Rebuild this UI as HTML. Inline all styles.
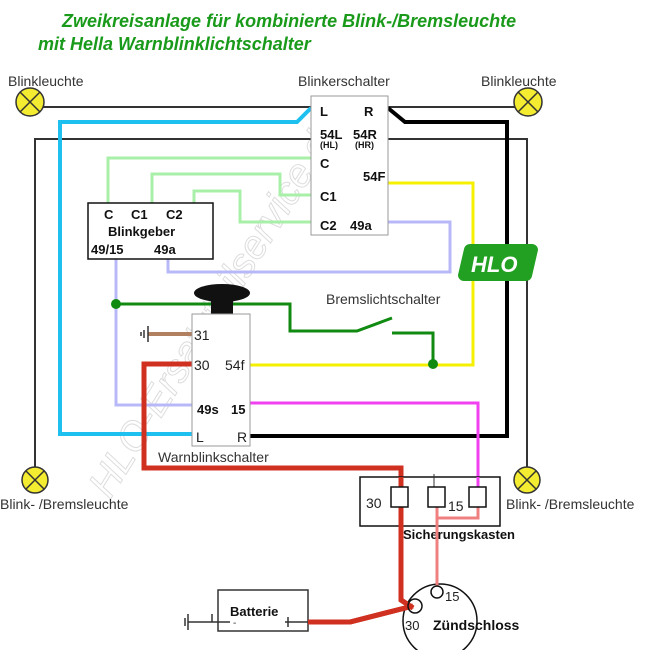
<!DOCTYPE html>
<html><head><meta charset="utf-8"><style>
html,body{margin:0;padding:0;background:#fff;}
svg{display:block;}
text{font-family:"Liberation Sans",sans-serif;}
</style></head><body>
<svg width="668" height="650" viewBox="0 0 668 650" xmlns="http://www.w3.org/2000/svg">
<rect width="668" height="650" fill="#fff"/>
<!-- watermark -->
<text x="0" y="0" transform="translate(110,500) rotate(-58)" font-size="40" fill="none" stroke="#ddd" stroke-width="1" font-style="italic">HLO-Ersatzteilservice.de</text>

<!-- title -->
<text x="62" y="27" font-size="18" font-weight="bold" font-style="italic" fill="#1a9a1a">Zweikreisanlage für kombinierte Blink-/Bremsleuchte</text>
<text x="38" y="50" font-size="18" font-weight="bold" font-style="italic" fill="#1a9a1a">mit Hella Warnblinklichtschalter</text>

<!-- thin black lines -->
<g stroke="#333" stroke-width="2" fill="none">
<line x1="30" y1="107" x2="311" y2="107"/>
<line x1="388" y1="107" x2="530" y2="107"/>
<polyline points="311,139 35,139 35,470"/>
<polyline points="388,139 527,139 527,470"/>
</g>

<!-- light green -->
<g stroke="#a8f0a8" stroke-width="3" fill="none">
<polyline points="311,158 108,158 108,204"/>
<polyline points="152,204 152,174 280,174 280,195 311,195"/>
<polyline points="194,204 194,191 240,191 240,222 311,222"/>
</g>

<!-- lavender -->
<g stroke="#b8b8f8" stroke-width="3" fill="none">
<polyline points="116,259 116,405 193,405"/>
<polyline points="168,259 168,272 450,272 450,222 388,222"/>
</g>

<!-- cyan -->
<polyline points="311,108 297,122 60,122 60,434 193,434" stroke="#1ec0f0" stroke-width="4" fill="none"/>

<!-- thick black -->
<polyline points="388,108 405,122 507,122 507,436 250,436" stroke="#000" stroke-width="4" fill="none"/>

<!-- yellow -->
<polyline points="388,183 473,183 473,365 250,365" stroke="#f5f000" stroke-width="3" fill="none"/>

<!-- magenta -->
<polyline points="250,403 478,403 478,485" stroke="#f040f0" stroke-width="3" fill="none"/>

<!-- dark green brake -->
<g stroke="#108a10" stroke-width="3" fill="none">
<polyline points="116,304 290,304 290,331 357,331 392,318"/>
<polyline points="392,333 433,333 433,363"/>
</g>
<circle cx="116" cy="304" r="5" fill="#108a10"/>
<circle cx="433" cy="364" r="5" fill="#108a10"/>

<!-- brown 31 -->
<line x1="148" y1="334" x2="192" y2="334" stroke="#b08060" stroke-width="4"/>
<g stroke="#333" stroke-width="1.5">
<line x1="148" y1="326" x2="148" y2="342"/><line x1="144" y1="330" x2="144" y2="338"/><line x1="141" y1="332" x2="141" y2="336"/>
</g>

<!-- red -->
<polyline points="192,364 144,364 144,468 401,468 401,600 413,608" stroke="#d03020" stroke-width="5" fill="none"/>
<polyline points="308,622 350,622 413,606" stroke="#d03020" stroke-width="5" fill="none"/>

<!-- pink -->
<g stroke="#f08080" stroke-width="3" fill="none">
<polyline points="437,507 437,587"/>
<polyline points="437,518 478,518 478,507"/>
</g>

<!-- lamps -->
<g stroke="#333" stroke-width="1.5">
<circle cx="30" cy="102" r="14" fill="#f4ec30"/>
<line x1="20" y1="92" x2="40" y2="112"/><line x1="40" y1="92" x2="20" y2="112"/>
<circle cx="528" cy="102" r="14" fill="#f4ec30"/>
<line x1="518" y1="92" x2="538" y2="112"/><line x1="538" y1="92" x2="518" y2="112"/>
<circle cx="35" cy="480" r="13" fill="#f4ec30"/>
<line x1="26" y1="471" x2="44" y2="489"/><line x1="44" y1="471" x2="26" y2="489"/>
<circle cx="527" cy="480" r="13" fill="#f4ec30"/>
<line x1="518" y1="471" x2="536" y2="489"/><line x1="536" y1="471" x2="518" y2="489"/>
</g>
<g font-size="14" fill="#333">
<text x="8" y="86">Blinkleuchte</text>
<text x="481" y="86">Blinkleuchte</text>
<text x="298" y="86">Blinkerschalter</text>
<text x="0" y="509">Blink- /Bremsleuchte</text>
<text x="506" y="509">Blink- /Bremsleuchte</text>
<text x="326" y="304">Bremslichtschalter</text>
<text x="158" y="462">Warnblinkschalter</text>
</g>

<!-- Blinkerschalter -->
<rect x="311" y="96" width="77" height="139" fill="#fff" stroke="#999" stroke-width="1"/>
<g font-size="13" font-weight="bold" fill="#111">
<text x="320" y="116">L</text><text x="364" y="116">R</text>
<text x="320" y="139">54L</text><text x="353" y="139">54R</text>
<text x="363" y="181">54F</text>
<text x="320" y="168">C</text>
<text x="320" y="201">C1</text>
<text x="320" y="230">C2</text><text x="350" y="230">49a</text>
</g>
<g font-size="9" font-weight="bold" fill="#111">
<text x="320" y="148">(HL)</text><text x="355" y="148">(HR)</text>
</g>

<!-- Blinkgeber -->
<rect x="88" y="203" width="125" height="56" fill="#fff" stroke="#111" stroke-width="1.5"/>
<g font-size="13" font-weight="bold" fill="#111">
<text x="104" y="219">C</text><text x="131" y="219">C1</text><text x="166" y="219">C2</text>
<text x="108" y="236">Blinkgeber</text>
<text x="91" y="254">49/15</text><text x="154" y="254">49a</text>
</g>

<!-- HLO logo -->
<path d="M470,244 h62 a6,6 0 0 1 6,6 l-6,26 a6,6 0 0 1 -6,5 h-62 a6,6 0 0 1 -6,-6 l6,-26 a6,6 0 0 1 6,-5z" fill="#22a022"/>
<text x="471" y="272" font-size="22" font-weight="bold" font-style="italic" fill="#fff">HLO</text>

<!-- mushroom -->
<ellipse cx="222" cy="293" rx="28" ry="9" fill="#111"/>
<rect x="211" y="295" width="22" height="20" fill="#111"/>

<!-- Warnblinkschalter -->
<rect x="192" y="314" width="58" height="132" fill="#fff" stroke="#999" stroke-width="1"/>
<g font-size="14" fill="#222">
<text x="194" y="340">31</text>
<text x="194" y="370">30</text><text x="225" y="370">54f</text>
<text x="196" y="442">L</text><text x="237" y="442">R</text>
</g>
<g font-size="13" font-weight="bold" fill="#111">
<text x="197" y="414">49s</text><text x="231" y="414">15</text>
</g>

<!-- Sicherungskasten -->
<rect x="360" y="477" width="140" height="49" fill="#fff" stroke="#111" stroke-width="1.5"/>
<polyline points="437,507 437,518 478,518 478,507" stroke="#f08080" stroke-width="3" fill="none"/>
<line x1="401" y1="477" x2="401" y2="487" stroke="#d03020" stroke-width="5"/>
<line x1="401" y1="507" x2="401" y2="526" stroke="#d03020" stroke-width="5"/>
<line x1="437" y1="507" x2="437" y2="526" stroke="#f08080" stroke-width="3"/>
<line x1="478" y1="477" x2="478" y2="487" stroke="#f040f0" stroke-width="3"/>
<line x1="434" y1="474" x2="434" y2="487" stroke="#333" stroke-width="1"/>
<g fill="#fff" stroke="#111" stroke-width="1.5">
<rect x="391" y="487" width="17" height="20"/>
<rect x="428" y="487" width="17" height="20"/>
<rect x="469" y="487" width="17" height="20"/>
</g>
<g font-size="14" fill="#222"><text x="366" y="508">30</text><text x="448" y="511">15</text></g>
<text x="403" y="539" font-size="13" font-weight="bold" fill="#111">Sicherungskasten</text>

<!-- Battery -->
<rect x="218" y="590" width="90" height="41" fill="#fff" stroke="#333" stroke-width="1.5"/>
<text x="230" y="616" font-size="13" font-weight="bold" fill="#111">Batterie</text>
<g stroke="#333" stroke-width="1.5">
<line x1="188" y1="622" x2="230" y2="622"/>
<line x1="188" y1="614" x2="188" y2="630"/><line x1="185" y1="618" x2="185" y2="626"/>
<line x1="212" y1="614" x2="212" y2="622"/>
<line x1="285" y1="622" x2="308" y2="622"/><line x1="288" y1="617" x2="288" y2="627"/>
</g>
<text x="233" y="626" font-size="10" fill="#333">-</text>

<!-- Zündschloss -->
<circle cx="440" cy="621" r="37" fill="none" stroke="#111" stroke-width="1.5"/>
<polyline points="308,622 350,622 413,606" stroke="#d03020" stroke-width="5" fill="none"/>
<polyline points="401,526 401,600 413,608" stroke="#d03020" stroke-width="5" fill="none"/>
<line x1="437" y1="526" x2="437" y2="587" stroke="#f08080" stroke-width="3"/>
<circle cx="415" cy="606" r="7" fill="none" stroke="#111" stroke-width="1.5"/>
<circle cx="437" cy="592" r="6" fill="#fff" stroke="#111" stroke-width="1.5"/>
<g font-size="13" fill="#222"><text x="445" y="601">15</text><text x="405" y="630">30</text></g>
<text x="433" y="630" font-size="14" font-weight="bold" fill="#111">Zündschloss</text>
</svg>
</body></html>
